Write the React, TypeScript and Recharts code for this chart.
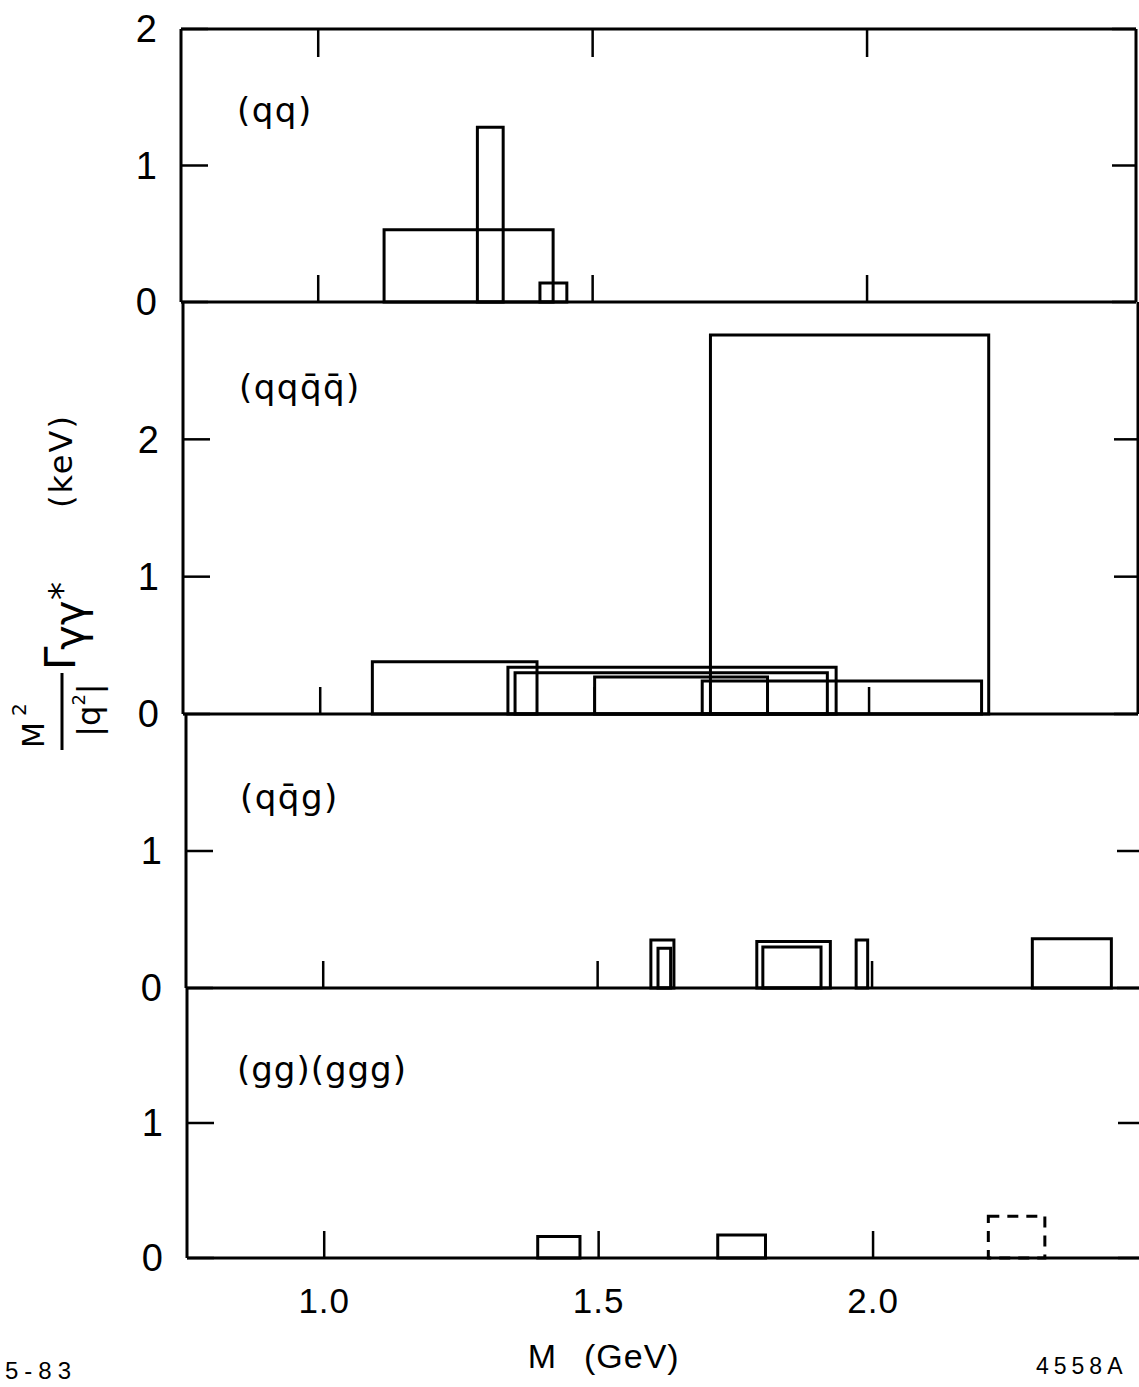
import { ComposedChart, XAxis, YAxis, ReferenceArea } from 'recharts'

// mass axis, GeV
const M_DOMAIN: [number, number] = [0.75, 2.49]
const M_TICKS = [1.0, 1.5, 2.0]

// (qq)
const QQ_FROM = [1.12, 1.29, 1.404]
const QQ_TO = [1.428, 1.337, 1.453]
const QQ_VALUE = [0.53, 1.28, 0.14]

// (qq qbar qbar)
const Q4_FROM = [1.095, 1.342, 1.355, 1.5, 1.696, 1.711]
const Q4_TO = [1.395, 1.94, 1.924, 1.815, 2.205, 2.218]
const Q4_VALUE = [0.38, 0.34, 0.3, 0.27, 0.24, 2.76]

// (q qbar g)
const QQG_FROM = [1.597, 1.61, 1.79, 1.801, 1.971, 2.292]
const QQG_TO = [1.639, 1.633, 1.924, 1.907, 1.992, 2.436]
const QQG_VALUE = [0.35, 0.29, 0.34, 0.3, 0.35, 0.36]

// (gg)(ggg)
const GG_FROM = [1.389, 1.717, 2.21]
const GG_TO = [1.466, 1.804, 2.313]
const GG_VALUE = [0.16, 0.17, 0.31]
const GG_DASHED = [false, false, true]

const INK = '#000'
const NUM_FONT = "'Liberation Sans', Arial, sans-serif"
const LABEL_FONT = "'DejaVu Sans', sans-serif"

interface PanelProps {
  top: number
  bottom: number
  yMax: number
  yTicks: number[]
  from: number[]
  to: number[]
  value: number[]
  dashed?: boolean[]
  shift: number
  topAxis?: boolean
  xLabels?: boolean
}

const PAD = 30
const BOTTOM_H = 100
const CHART_W = 1200
const Y_AXIS_W = 70
const R_AXIS_W = 10

function Panel({ top, bottom, yMax, yTicks, from, to, value, dashed, shift, topAxis, xLabels }: PanelProps) {
  const h = bottom - top
  const plotLeft = 183 + shift
  const plotRight = 1138 + shift
  const rows = from.map((m, i) => ({ m, v: value[i] }))
  return (
    <div style={{ position: 'absolute', left: 0, top: top - PAD }}>
      <ComposedChart
        width={CHART_W}
        height={PAD + h + BOTTOM_H}
        data={rows}
        margin={{
          top: topAxis ? 0 : PAD,
          right: CHART_W - plotRight - R_AXIS_W,
          bottom: 0,
          left: plotLeft - Y_AXIS_W,
        }}
      >
        {topAxis && (
          <XAxis xAxisId="t" orientation="top" type="number" dataKey="m" domain={M_DOMAIN}
            ticks={M_TICKS} interval={0} height={PAD} allowDataOverflow
            tickSize={-28} tickFormatter={() => ''}
            axisLine={{ stroke: INK, strokeWidth: 3 }}
            tickLine={{ stroke: INK, strokeWidth: 2.5 }} />
        )}
        <XAxis xAxisId="b" type="number" dataKey="m" domain={M_DOMAIN} ticks={M_TICKS}
          interval={0} height={BOTTOM_H} allowDataOverflow
          tickSize={-27} tickMargin={57}
          tickFormatter={(v: number) => (xLabels ? v.toFixed(1) : '')}
          tick={{ fill: INK, fontSize: 35, fontFamily: NUM_FONT, letterSpacing: 1 }}
          axisLine={{ stroke: INK, strokeWidth: 3 }}
          tickLine={{ stroke: INK, strokeWidth: 2.5 }} />
        <YAxis yAxisId="l" type="number" dataKey="v" domain={[0, yMax]} ticks={yTicks}
          interval={0} width={Y_AXIS_W} allowDataOverflow
          tickSize={-27} tickMargin={51}
          tick={{ fill: INK, fontSize: 38, fontFamily: NUM_FONT }}
          axisLine={{ stroke: INK, strokeWidth: 3 }}
          tickLine={{ stroke: INK, strokeWidth: 2.5 }} />
        <YAxis yAxisId="r" orientation="right" type="number" dataKey="v" domain={[0, yMax]}
          ticks={yTicks} interval={0} width={R_AXIS_W} allowDataOverflow
          tickSize={-24} tickFormatter={() => ''}
          axisLine={{ stroke: INK, strokeWidth: 3 }}
          tickLine={{ stroke: INK, strokeWidth: 2.5 }} />
        {from.map((x1, i) => (
          <ReferenceArea key={`box-${i}`} xAxisId="b" yAxisId="l"
            x1={x1} x2={to[i]} y1={0} y2={value[i]}
            fill="none" fillOpacity={0} stroke={INK} strokeWidth={3} strokeOpacity={1}
            strokeDasharray={dashed?.[i] ? '11 8' : undefined}
            ifOverflow="visible" />
        ))}
      </ComposedChart>
    </div>
  )
}

function Overlay() {
  const lbl = { fontFamily: LABEL_FONT, fontSize: 34, fill: INK, letterSpacing: 1.5 }
  return (
    <svg width={1139} height={1387}
      style={{ position: 'absolute', left: 0, top: 0, pointerEvents: 'none' }}>
      <text x={237} y={122} {...lbl}>(qq)</text>
      <text x={239} y={399} {...lbl}>(qqq̄q̄)</text>
      <text x={240} y={809} {...lbl}>(qq̄g)</text>
      <text x={237} y={1081} {...lbl} letterSpacing={1}>(gg)(ggg)</text>

      {/* y axis title, read bottom to top */}
      <g transform="translate(62 712) rotate(-90)" fontFamily={LABEL_FONT} fill={INK}>
        <line x1={-38} x2={39} y1={0} y2={0} stroke={INK} strokeWidth={3} />
        <text x={-23} y={-18} fontSize={30} textAnchor="middle">M</text>
        <text x={-4} y={-36} fontSize={20}>2</text>
        <text x={2} y={38} fontSize={32} textAnchor="middle">
          |q<tspan fontSize={18} dy={-15}>2</tspan><tspan dy={15}>|</tspan>
        </text>
        <text x={42} y={13} fontSize={42}>Γ</text>
        <text x={62} y={22} fontSize={42}>γγ</text>
        <text x={112} y={12} fontSize={36}>*</text>
        <text x={204} y={10} fontSize={32} letterSpacing={2}>(keV)</text>
      </g>

      <text x={542} y={1368} fontFamily={NUM_FONT} fontSize={34} textAnchor="middle" fill={INK}>M</text>
      <text x={584} y={1368} fontFamily={NUM_FONT} fontSize={34} fill={INK} letterSpacing={1}>(GeV)</text>
      <text x={5} y={1379} fontFamily={NUM_FONT} fontSize={24} fill={INK} letterSpacing={6}>5-83</text>
      <text x={1036} y={1374} fontFamily={NUM_FONT} fontSize={23} fill={INK} letterSpacing={5}>4558A</text>
    </svg>
  )
}

export default function App() {
  return (
    <div style={{
      position: 'absolute', left: 0, top: 0, width: 1139, height: 1387,
      overflow: 'hidden', background: '#fff',
    }}>
      <Panel top={29} bottom={302} yMax={2} yTicks={[0, 1, 2]}
        from={QQ_FROM} to={QQ_TO} value={QQ_VALUE} shift={-2} topAxis />
      <Panel top={302} bottom={714} yMax={3} yTicks={[0, 1, 2]}
        from={Q4_FROM} to={Q4_TO} value={Q4_VALUE} shift={0} />
      <Panel top={714} bottom={988} yMax={2} yTicks={[0, 1]}
        from={QQG_FROM} to={QQG_TO} value={QQG_VALUE} shift={3} />
      <Panel top={988} bottom={1258} yMax={2} yTicks={[0, 1]}
        from={GG_FROM} to={GG_TO} value={GG_VALUE} dashed={GG_DASHED} shift={4} xLabels />
      <Overlay />
    </div>
  )
}
